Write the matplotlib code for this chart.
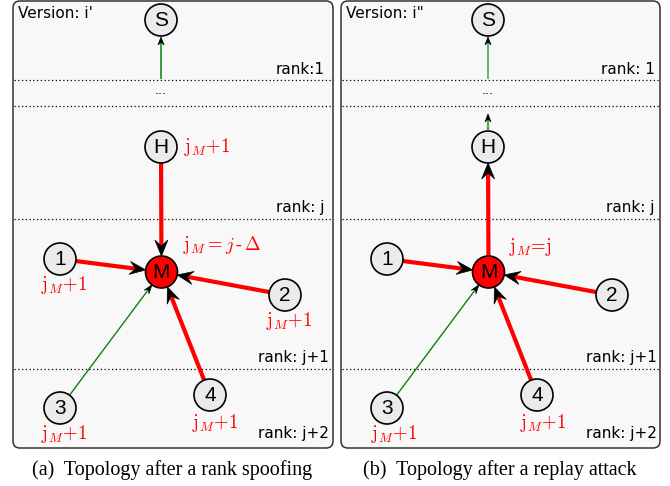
import numpy as np
import matplotlib
matplotlib.use("Agg")
import matplotlib.pyplot as plt
from matplotlib.patches import Circle, FancyBboxPatch, Polygon

plt.rcParams['mathtext.fontset'] = 'cm'

# ---------------- data (pixel layout of the diagram) ----------------
panel_offsets = [0, 327]
panel_boxes = [(13, 1, 320, 447), (341, 1, 319, 447)]
versions = ["Version: i'", 'Version: i"']
captions = ["(a)  Topology after a rank spoofing", "(b)  Topology after a replay attack"]
caption_x = [172, 500]
rank_lines_y = [80, 106, 219, 369]
rank_texts = [["rank:1", "rank: j", "rank: j+1", "rank: j+2"],
              ["rank: 1", "rank: j", "rank: j+1", "rank: j+2"]]
rank_text_y = [69, 207, 357, 433]
rank_text_xr = [[325, 325, 329, 329], [655, 655, 657, 657]]

node_names = ["S", "H", "M", "1", "2", "3", "4"]
node_x = [161, 161, 161.5, 60, 285, 60, 210]
node_y = [20, 147, 272, 259, 295, 408, 395]
node_r = 16

lab_a = [("H", r"$\mathrm{j}_M\!+\!1$", 207, 147),
         ("M", r"$\mathrm{j}_M = j\,\text{-}\,\Delta$", 222, 245),
         ("1", r"$\mathrm{j}_M\!+\!1$", 64, 285),
         ("2", r"$\mathrm{j}_M\!+\!1$", 289, 321),
         ("3", r"$\mathrm{j}_M\!+\!1$", 64, 434),
         ("4", r"$\mathrm{j}_M\!+\!1$", 215, 423)]
lab_b = [("M", r"$\mathrm{j}_M\!=\!\mathrm{j}$", 530, 247),
         ("3", r"$\mathrm{j}_M\!+\!1$", 394, 434),
         ("4", r"$\mathrm{j}_M\!+\!1$", 543, 423)]

# edges: (from, to, kind)  kind: 'red' thick or 'green' thin
edges_a = [("H", "M", "red"), ("1", "M", "red"), ("2", "M", "red"),
           ("3", "M", "green"), ("4", "M", "red")]
edges_b = [("M", "H", "red"), ("1", "M", "red"), ("2", "M", "red"),
           ("3", "M", "green"), ("4", "M", "red")]

RED = "#ff0000"
GREEN = "#1a8a1a"

fig = plt.figure(figsize=(6.7, 4.86), dpi=100)
ax = fig.add_axes([0, 0, 1, 1])
ax.set_xlim(0, 670)
ax.set_ylim(486, 0)
ax.axis('off')


def head(tip, d, L, W, zorder=6):
    d = np.asarray(d) / np.linalg.norm(d)
    n = np.array([-d[1], d[0]])
    tip = np.asarray(tip)
    back = tip - d * L
    pts = [tip, back + n * W / 2, tip - d * L * 0.62, back - n * W / 2]
    ax.add_patch(Polygon(pts, closed=True, fc='black', ec='black', lw=0.5, zorder=zorder))


def arrow(p0, p1, color, lw, L, W, shrink0=0.0, shrink1=0.0):
    p0 = np.asarray(p0, float)
    p1 = np.asarray(p1, float)
    d = (p1 - p0) / np.linalg.norm(p1 - p0)
    a = p0 + d * shrink0
    b = p1 - d * shrink1
    ax.plot([a[0], b[0] - d[0] * L * 0.6], [a[1], b[1] - d[1] * L * 0.6],
            color=color, lw=lw, solid_capstyle='butt', zorder=4)
    head(b, d, L, W)


for k, off in enumerate(panel_offsets):
    bx, by, bw, bh = panel_boxes[k]
    ax.add_patch(FancyBboxPatch((bx, by), bw, bh,
                                boxstyle="round,pad=0,rounding_size=7",
                                fc="#f8f8f8", ec="#333333", lw=1.1, zorder=1))
    for yy in rank_lines_y:
        ax.plot([bx + 1, bx + bw], [yy, yy], color='black', lw=0.9,
                linestyle=(0, (1, 2)), zorder=2)
    for t, yy, xr in zip(rank_texts[k], rank_text_y, rank_text_xr[k]):
        ax.text(xr, yy, t, ha='right', va='center', fontsize=11,
                family='DejaVu Sans', color='black', zorder=3)
    ax.text(bx + 5, 13, versions[k], ha='left', va='center',
            fontsize=11, family='DejaVu Sans', zorder=3)
    ax.text(node_x[0] + off, 90, "...", ha='center', va='center', fontsize=9, zorder=3)
    ax.text(caption_x[k], 470, captions[k], ha='center', va='center',
            fontsize=14.5, family='Liberation Serif', zorder=3)

    pos = {nm: (x + off, y) for nm, x, y in zip(node_names, node_x, node_y)}
    for nm in node_names:
        fc = RED if nm == "M" else "#ebebeb"
        ax.add_patch(Circle(pos[nm], node_r, fc=fc, ec='black', lw=1.2, zorder=5))
        ax.text(pos[nm][0], pos[nm][1] + 0.5, nm, ha='center', va='center',
                fontsize=15, family='Liberation Sans', zorder=7)

    # green arrow from rank:1 line to the sink
    sx, sy = pos["S"]
    gcol = GREEN if k == 0 else "#4aa84a"
    arrow((sx, rank_lines_y[0] - 1), (sx, sy), gcol, 1.2, 8, 6, 0, node_r + 1)
    if k == 1:
        hx, hy = pos["H"]
        arrow((hx, hy), (hx, rank_lines_y[1] + 8), gcol, 1.6, 8, 6, node_r + 1, 0)

    edges = edges_a if k == 0 else edges_b
    for f, t, kind in edges:
        if kind == "red":
            arrow(pos[f], pos[t], RED, 3.0, 16, 13, node_r, node_r)
        else:
            arrow(pos[f], pos[t], "#108010", 1.0, 9, 6, node_r, node_r)

    labs = lab_a if k == 0 else lab_b
    for nm, s, lx, ly in labs:
        ax.text(lx, ly, s, ha='center', va='center', fontsize=13.5, color=RED, zorder=7)

fig.savefig("out.png", dpi=100)
